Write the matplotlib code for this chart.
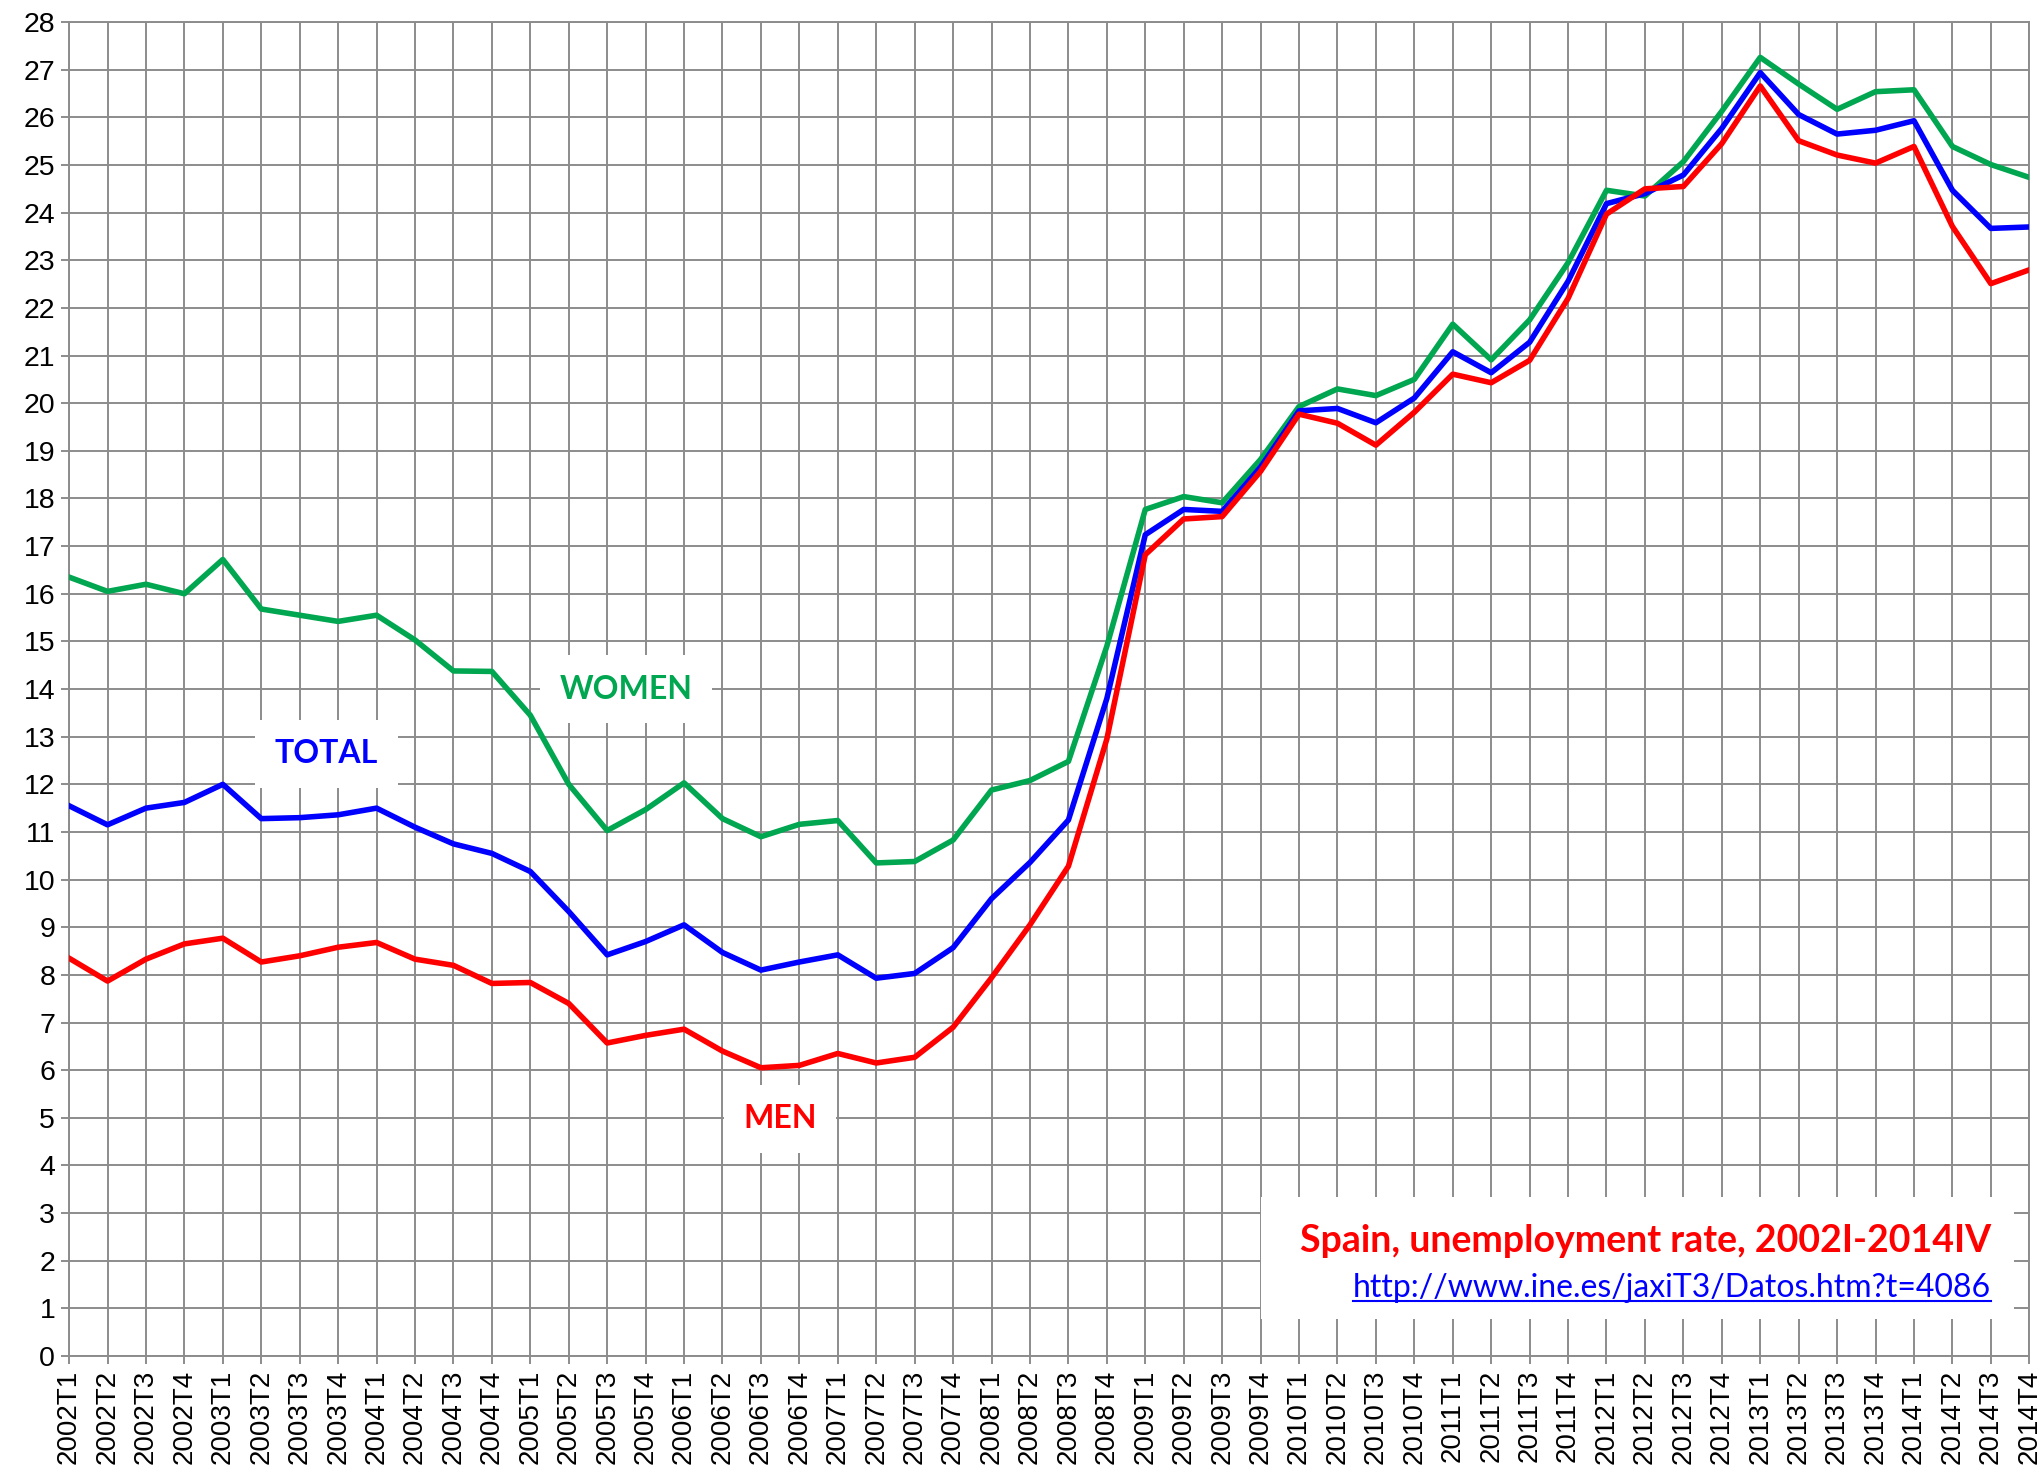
import matplotlib
matplotlib.use("Agg")
import matplotlib.pyplot as plt
from matplotlib.patches import Rectangle
from matplotlib.lines import Line2D

# quarters 2002T1 .. 2014T4
quarters = ["%dT%d" % (y, q) for y in range(2002, 2015) for q in range(1, 5)]

total = [11.55, 11.15, 11.50, 11.62, 12.00, 11.28, 11.30, 11.36,
         11.50, 11.10, 10.75, 10.55, 10.17, 9.33, 8.42, 8.70,
         9.05, 8.47, 8.10, 8.27, 8.42, 7.93, 8.03, 8.57,
         9.60, 10.36, 11.25, 13.80, 17.24, 17.77, 17.73, 18.66,
         19.84, 19.89, 19.59, 20.11, 21.08, 20.64, 21.28, 22.56,
         24.19, 24.40, 24.79, 25.77, 26.94, 26.06, 25.65, 25.73,
         25.93, 24.47, 23.67, 23.70]

men = [8.35, 7.87, 8.33, 8.65, 8.77, 8.27, 8.40, 8.58,
       8.68, 8.33, 8.20, 7.82, 7.84, 7.40, 6.57, 6.73,
       6.86, 6.40, 6.05, 6.10, 6.35, 6.15, 6.27, 6.90,
       7.94, 9.05, 10.28, 12.95, 16.82, 17.57, 17.62, 18.57,
       19.77, 19.58, 19.12, 19.81, 20.61, 20.43, 20.90, 22.20,
       23.97, 24.50, 24.55, 25.45, 26.66, 25.51, 25.21, 25.04,
       25.39, 23.71, 22.51, 22.80]

women = [16.35, 16.05, 16.20, 16.00, 16.72, 15.68, 15.55, 15.42,
         15.55, 15.03, 14.38, 14.37, 13.45, 12.00, 11.03, 11.47,
         12.03, 11.28, 10.90, 11.16, 11.24, 10.35, 10.38, 10.83,
         11.88, 12.08, 12.48, 14.90, 17.77, 18.04, 17.91, 18.82,
         19.93, 20.30, 20.16, 20.50, 21.66, 20.91, 21.75, 22.95,
         24.47, 24.35, 25.07, 26.13, 27.26, 26.70, 26.17, 26.54,
         26.58, 25.39, 25.01, 24.74]

GREEN = "#00a650"
BLUE = "#0000ff"
RED = "#ff0000"
GRID = "#8c8c8c"

fig = plt.figure(figsize=(20.44, 14.75), dpi=100)
ax = fig.add_axes([0.0338, 0.0807, 0.959, 0.9043])

x = list(range(len(quarters)))
ax.plot(x, women, color=GREEN, lw=4.0, zorder=3)
ax.plot(x, total, color=BLUE, lw=4.0, zorder=3)
ax.plot(x, men, color=RED, lw=4.0, zorder=3)

ax.set_xlim(0, len(quarters) - 1)
ax.set_ylim(0, 28)
ax.set_yticks(range(0, 29))
ax.set_xticks(x)
ax.set_xticklabels(quarters, rotation=90, fontsize=20, family="Liberation Sans")
for t in ax.get_yticklabels():
    t.set_fontsize(20.5)
    t.set_family("Liberation Sans")

ax.set_axisbelow(True)
ax.grid(True, color=GRID, lw=1.4)
for s in ax.spines.values():
    s.set_color(GRID)
    s.set_linewidth(1.4)
ax.tick_params(axis="both", color=GRID, width=1.4, length=6, pad=4)

# white boxes behind labels
lab = dict(fontsize=23, fontweight="bold", family="Lato", ha="center", va="center", zorder=4,
           bbox=dict(facecolor="white", edgecolor="none", pad=14))
ax.text(14.5, 14.0, "WOMEN", color=GREEN, **lab)
ax.text(6.7, 12.64, "TOTAL", color=BLUE, **lab)
ax.text(18.5, 4.98, "MEN", color=RED, **lab)

ax.add_patch(Rectangle((31.0, 0.77), 19.6, 2.57, facecolor="white", edgecolor="none", zorder=2))
ax.text(50.0, 2.41, "Spain, unemployment rate, 2002I-2014IV", color=RED, fontsize=27,
        fontweight="bold", family="Lato", ha="right", va="center", zorder=4)
link = ax.text(50.0, 1.42, "http://www.ine.es/jaxiT3/Datos.htm?t=4086", color=BLUE, fontsize=23,
               family="Lato", ha="right", va="center", zorder=4)

# underline the link
fig.canvas.draw()
bb = link.get_window_extent()
inv = ax.transData.inverted()
(x0, y0), (x1, y1) = inv.transform([(bb.x0, bb.y0 + 2), (bb.x1, bb.y0 + 2)])
ax.add_line(Line2D([x0, x1], [y0, y1], color=BLUE, lw=1.5, zorder=4))

fig.savefig("out.png", dpi=100)
